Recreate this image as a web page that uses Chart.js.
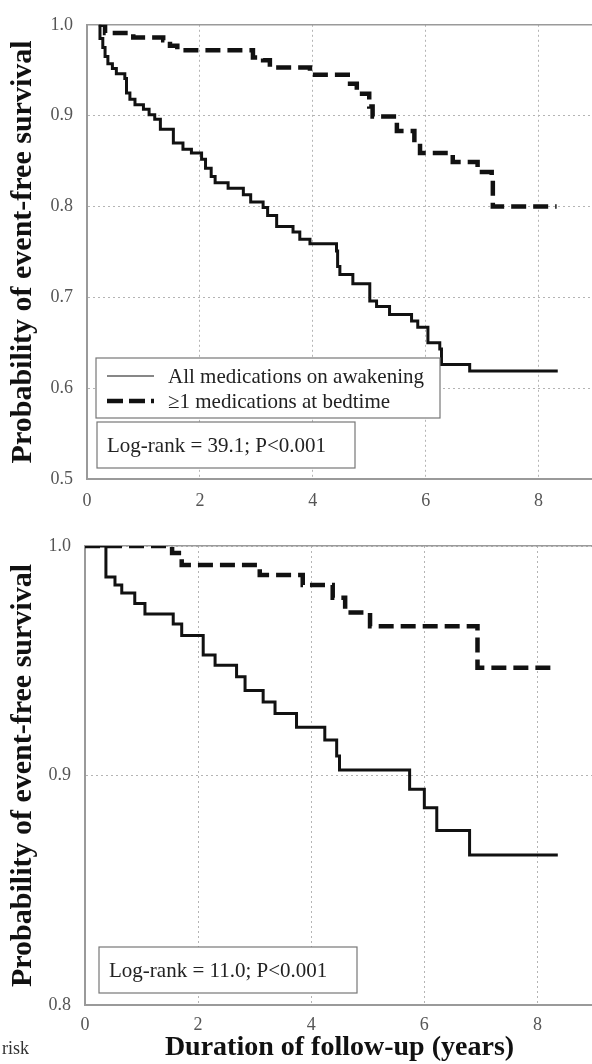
<!DOCTYPE html>
<html>
<head>
<meta charset="utf-8">
<script src="https://cdn.jsdelivr.net/npm/chart.js"></script>
<style>
  html, body { margin: 0; padding: 0; background: #fff; overflow: hidden; width: 592px; height: 1064px; }
  #topWrap { position: absolute; left: 0; top: 0; width: 600px; height: 520px; }
  #botWrap { position: absolute; left: 0; top: 520px; width: 600px; height: 544px; }
  #risk { position: absolute; left: 2px; top: 1038px; font: 18px "Liberation Serif", serif; color: #333; }
</style>
</head>
<body>
<div id="topWrap"><canvas id="topChart"></canvas></div>
<div id="botWrap"><canvas id="botChart"></canvas></div>
<div id="risk">risk</div>
<script>
// ---- Data ----
const seriesLabels = ["All medications on awakening", "\u22651 medications at bedtime"];

// Top panel
const topAwakeX = [0.21,0.23,0.28,0.32,0.37,0.45,0.52,0.67,0.70,0.76,0.85,1.00,1.10,1.20,1.30,1.53,1.70,1.85,2.03,2.10,2.20,2.27,2.50,2.77,2.90,3.12,3.20,3.36,3.65,3.77,3.95,4.42,4.44,4.48,4.71,5.01,5.13,5.36,5.75,5.86,6.04,6.25,6.28,6.78,8.34];
const topAwakeY = [1.000,0.985,0.975,0.965,0.957,0.952,0.946,0.941,0.925,0.918,0.912,0.907,0.901,0.896,0.885,0.870,0.863,0.859,0.852,0.842,0.833,0.826,0.820,0.813,0.805,0.799,0.790,0.778,0.772,0.764,0.759,0.751,0.734,0.725,0.715,0.696,0.690,0.681,0.674,0.667,0.650,0.643,0.626,0.619,0.619];
const topBedX = [0.21,0.32,0.82,1.35,1.47,1.60,2.94,3.12,3.24,3.95,4.62,4.78,5.00,5.06,5.49,5.80,5.90,6.48,6.92,7.17,7.19,8.32];
const topBedY = [1.000,0.991,0.986,0.983,0.977,0.972,0.964,0.961,0.953,0.945,0.935,0.924,0.910,0.899,0.883,0.870,0.859,0.849,0.838,0.831,0.800,0.800];

// Bottom panel
const botAwakeX = [0,0.37,0.53,0.65,0.88,1.06,1.56,1.71,2.09,2.30,2.68,2.83,3.15,3.36,3.74,4.24,4.45,4.50,5.74,6.00,6.22,6.80,8.36];
const botAwakeY = [1.000,0.9865,0.983,0.9795,0.975,0.9704,0.966,0.961,0.9525,0.948,0.943,0.937,0.932,0.927,0.921,0.9155,0.9085,0.9024,0.894,0.886,0.876,0.8654,0.8654];
const botBedX = [0,1.54,1.71,3.09,3.85,4.38,4.60,5.04,6.94,8.34];
const botBedY = [1.000,0.997,0.9917,0.9874,0.983,0.9775,0.971,0.965,0.947,0.947];

const logRankTop = "Log-rank = 39.1; P<0.001";
const logRankBottom = "Log-rank = 11.0; P<0.001";
const yTitle = "Probability of event-free survival";
const xTitle = "Duration of follow-up (years)";

// ---- helpers ----
const pts = (xs, ys) => xs.map((x, i) => ({x: x, y: ys[i]}));
const SERIF = '"Liberation Serif", "Times New Roman", serif';
const GRID = '#b4b4b4';
const AXIS = '#9a9a9a';
const TICK = '#555';

function datasets(ax, ay, bx, by) {
  return [
    { label: seriesLabels[0], data: pts(ax, ay), borderColor: '#111', borderWidth: 3,
      stepped: true, pointRadius: 0, fill: false, xAxisID: 'x', yAxisID: 'y' },
    { label: seriesLabels[1], data: pts(bx, by), borderColor: '#111', borderWidth: 4.5,
      borderDash: [15, 7], stepped: true, pointRadius: 0, fill: false, xAxisID: 'x', yAxisID: 'y' }
  ];
}

const boxPlugin = {
  id: 'kmBoxes',
  afterDatasetsDraw(chart, args, opts) {
    const ctx = chart.ctx, a = chart.chartArea;
    ctx.save();
    ctx.font = '21px ' + SERIF;
    ctx.textBaseline = 'middle';
    ctx.textAlign = 'left';
    if (opts.legend) {
      const [dx, dy, w, h] = opts.legend;
      const l = a.left + dx, t = a.bottom - dy;
      ctx.fillStyle = '#fff';
      ctx.fillRect(l, t, w, h);
      ctx.strokeStyle = '#777'; ctx.lineWidth = 1.2; ctx.setLineDash([]);
      ctx.strokeRect(l, t, w, h);
      const ds = chart.data.datasets;
      const rows = [t + 18, t + 43];
      ds.forEach((d, i) => {
        ctx.beginPath();
        ctx.strokeStyle = '#111';
        ctx.lineWidth = i === 0 ? 1.2 : 4.5;
        ctx.setLineDash(i === 0 ? [] : [16, 6]);
        ctx.moveTo(l + 11, rows[i]); ctx.lineTo(l + 58, rows[i]);
        ctx.stroke();
        ctx.setLineDash([]);
        ctx.fillStyle = '#222';
        ctx.fillText(d.label, l + 72, rows[i] + 1);
      });
    }
    if (opts.logRank) {
      const [dx, dy, w, h, text] = opts.logRank;
      const l = a.left + dx, t = a.bottom - dy;
      ctx.fillStyle = '#fff';
      ctx.fillRect(l, t, w, h);
      ctx.strokeStyle = '#777'; ctx.lineWidth = 1.2; ctx.setLineDash([]);
      ctx.strokeRect(l, t, w, h);
      ctx.fillStyle = '#222';
      ctx.fillText(text, l + 10, t + h / 2 + 1);
    }
    ctx.restore();
  }
};

function makeOptions(cfg) {
  return {
    responsive: true,
    maintainAspectRatio: false,
    animation: false,
    events: [],
    layout: { padding: { top: cfg.padTop, right: cfg.padRight, left: 0, bottom: 0 } },
    plugins: {
      legend: { display: false },
      tooltip: { enabled: false },
      kmBoxes: cfg.boxes
    },
    scales: {
      x: {
        type: 'linear', position: 'bottom', min: 0, max: 9,
        afterFit: s => { s.height = cfg.xHeight; },
        ticks: { stepSize: 2, includeBounds: false, color: TICK, padding: cfg.xTickPad,
                 font: { family: SERIF, size: 18 }, maxRotation: 0,
                 callback: v => String(v) },
        grid: { color: GRID, lineWidth: 1, drawTicks: false },
        border: { color: AXIS, width: 2, dash: [2, 3] },
        title: cfg.xTitle ? { display: true, text: xTitle, color: '#111',
                 font: { family: SERIF, size: 28, weight: 'bold', lineHeight: 1 },
                 padding: { top: 0, bottom: 2 } } : { display: false }
      },
      xTop: {
        type: 'linear', position: 'top', min: 0, max: 9,
        afterFit: s => { s.height = 0; },
        ticks: { display: false },
        grid: { display: false, drawTicks: false },
        border: { color: AXIS, width: 1.5 }
      },
      y: {
        type: 'linear', position: 'left', min: cfg.yMin, max: 1.0,
        afterFit: s => { s.width = cfg.yWidth; },
        ticks: { stepSize: 0.1, color: TICK, padding: 14,
                 font: { family: SERIF, size: 18 },
                 callback: v => Number(v).toFixed(1) },
        grid: { color: GRID, lineWidth: 1, drawTicks: false },
        border: { color: AXIS, width: 2, dash: [2, 3] },
        title: { display: true, text: yTitle, color: '#111',
                 font: { family: SERIF, size: 30, weight: 'bold', lineHeight: 1.2 },
                 padding: { top: 5, bottom: 0 } }
      }
    }
  };
}

new Chart(document.getElementById('topChart'), {
  type: 'line',
  data: { datasets: datasets(topAwakeX, topAwakeY, topBedX, topBedY) },
  options: makeOptions({
    padTop: 17, padRight: 5, xHeight: 41, xTickPad: 11, yWidth: 87, yMin: 0.5, xTitle: false,
    boxes: { legend: [9, 121, 344, 60], logRank: [10, 57, 258, 46, logRankTop] }
  }),
  plugins: [boxPlugin]
});

new Chart(document.getElementById('botChart'), {
  type: 'line',
  data: { datasets: datasets(botAwakeX, botAwakeY, botBedX, botBedY) },
  options: makeOptions({
    padTop: 26, padRight: 6, xHeight: 59, xTickPad: 9, yWidth: 85, yMin: 0.8, xTitle: true,
    boxes: { logRank: [14, 58, 258, 46, logRankBottom] }
  }),
  plugins: [boxPlugin]
});
</script>
</body>
</html>
